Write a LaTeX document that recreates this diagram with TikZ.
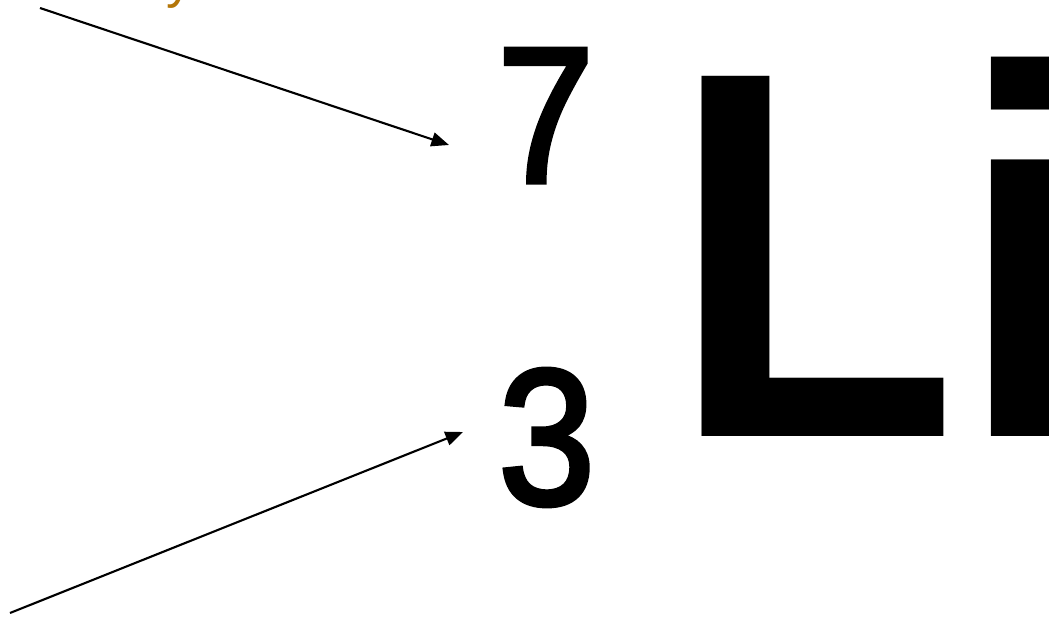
\documentclass[tikz,border=0pt]{standalone}
\usepackage{fontspec}
\setmainfont{Liberation Sans}
\newfontfamily\numfont[FakeBold=2.6]{Liberation Sans}
\usepackage{xcolor}
\usetikzlibrary{positioning,arrows.meta,calc}
\definecolor{labelgold}{RGB}{180,118,8}

\begin{document}
\begin{tikzpicture}[x=0.02cm, y=-0.02cm, >={Triangle[length=10pt,width=8pt]},
    every node/.style={inner sep=0pt, anchor=base west},
    bignum/.style={font=\numfont\fontsize{110}{110}\selectfont},
    symbol/.style={font=\fontsize{298}{298}\selectfont\bfseries}]
  \useasboundingbox (0,0) rectangle (1049,619);
  % nucleus notation
  \node[bignum] (mass) at (497,182) {\scalebox{0.9}[1]{7}};
  \node[bignum] (atomic) at (498,504) {\scalebox{0.9}[1]{3}};
  \node[symbol] (elem) at (670.5,436) {\scalebox{0.9}[1]{Li}};
  % label cut off at the top
  \node[font=\fontsize{30}{30}\selectfont, text=labelgold] (masslabel) at (166,-3) {y};
  % arrow ends
  \coordinate (massTail) at (40,8);
  \coordinate (massTip) at ($(mass.base west)+(-48,-37)$);
  \coordinate (atomicTail) at (10,613);
  \coordinate (atomicTip) at ($(atomic.base west)+(-35,-72)$);
  % arrows
  \draw[->, line width=1.2pt] (massTail) -- (massTip);
  \draw[->, line width=1.2pt] (atomicTail) -- (atomicTip);
\end{tikzpicture}
\end{document}
